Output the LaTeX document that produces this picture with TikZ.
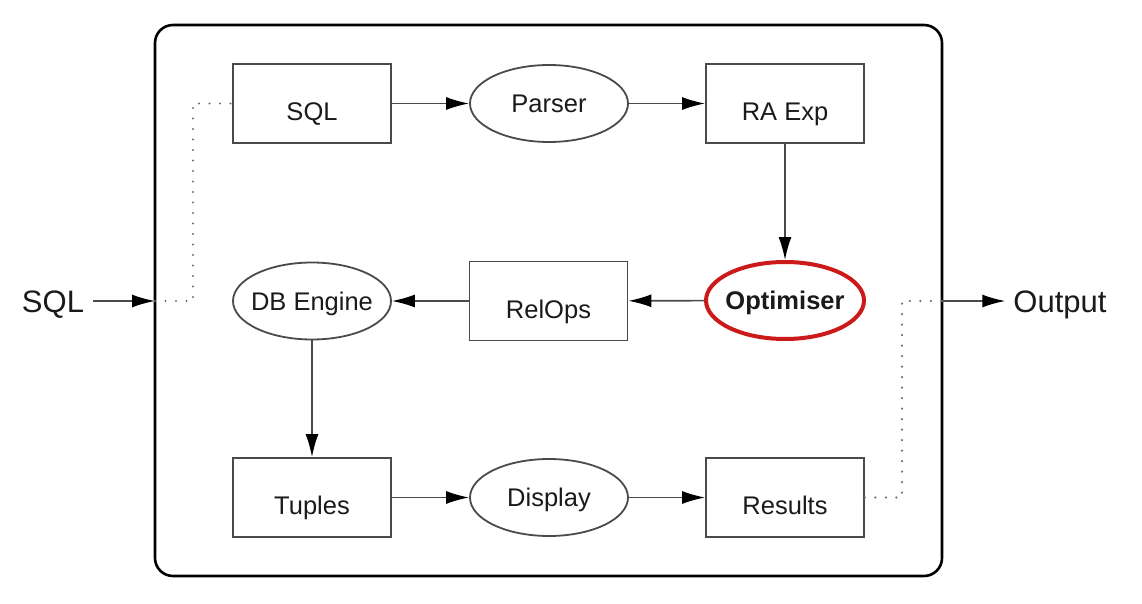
\documentclass[tikz,border=0pt]{standalone}
\usepackage{fontspec}
\setmainfont{Liberation Sans}
\usetikzlibrary{arrows.meta,shapes.geometric}
\definecolor{edgegray}{HTML}{4A4A4A}
\definecolor{optred}{HTML}{CC1A1A}
\definecolor{txt}{HTML}{1A1A1A}
\definecolor{dotgray}{HTML}{707070}
\newcommand\zw[1]{\makebox[0pt]{#1}}
\begin{document}
\begin{tikzpicture}[x=1pt,y=-1pt,
  every node/.style={text=txt},
  boxnode/.style={rectangle, draw=edgegray, line width=1.8pt, minimum width=158pt, minimum height=79pt, inner sep=0pt,
    font=\fontsize{25.5}{30}\selectfont, text height=34pt, text depth=0pt},
  ellnode/.style={ellipse, draw=edgegray, line width=1.8pt, minimum width=158pt, minimum height=77pt, inner sep=0pt,
    font=\fontsize{25.5}{30}\selectfont, text height=18.3pt, text depth=0pt},
  optnode/.style={ellnode, draw=optred, line width=4pt, font=\fontsize{25.5}{30}\selectfont\bfseries},
  outer/.style={draw=black, line width=2.6pt, rounded corners=18pt},
  arrow/.style={draw=edgegray, line width=1.6pt, -{Latex[length=23pt,width=13pt,color=black]}},
  dots/.style={draw=dotgray, line width=2.4pt, line cap=round, dash pattern=on 0pt off 10.5pt},
  extlabel/.style={font=\fontsize{31}{36}\selectfont, inner sep=0pt, text height=22.2pt, text depth=0pt}
]
\useasboundingbox (0,0) rectangle (1142,604);
\draw[outer] (155,25) rectangle (942,576);

\node[boxnode] (sql) at (312,103.5) {SQL};
\node[ellnode] (parser) at (549,103.5) {\zw{Parser}};
\node[boxnode] (raexp) at (785,103.5) {RA Exp};
\node[optnode] (opt) at (785,300.5) {\zw{Optimiser}};
\node[boxnode] (relops) at (548.5,301) {RelOps};
\node[ellnode] (dbeng) at (312,301) {\zw{DB Engine}};
\node[boxnode] (tuples) at (312,497.5) {Tuples};
\node[ellnode] (display) at (549,497.5) {\zw{Display}};
\node[boxnode] (results) at (785,497.5) {Results};

\node[extlabel] (insql) at (53,301) {SQL};
\node[extlabel] (output) at (1060,301) {Output};
\coordinate (inend) at (155,301);
\coordinate (bendin) at (193,301);
\coordinate (outend) at (942,301);
\coordinate (bendout) at (902,301);

\draw[arrow] (sql) -- (parser);
\draw[arrow] (parser) -- (raexp);
\draw[arrow] (raexp) -- (opt);
\draw[arrow] (opt) -- (relops);
\draw[arrow] (relops) -- (dbeng);
\draw[arrow] (dbeng) -- (tuples);
\draw[arrow] (tuples) -- (display);
\draw[arrow] (display) -- (results);

\draw[arrow, shorten <=9pt] (insql.east) -- (inend);
\draw[arrow, shorten >=8pt] (outend) -- (output.west);
\draw[dots] (inend) -- (bendin) |- (sql.west);
\draw[dots] (results.east) -| (bendout) -- (outend);
\end{tikzpicture}
\end{document}
